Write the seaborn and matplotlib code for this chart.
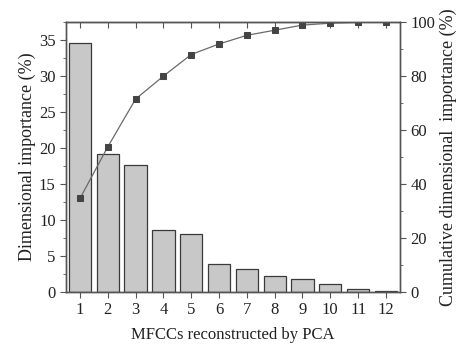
import matplotlib
matplotlib.use("Agg")
import matplotlib.pyplot as plt
import seaborn as sns
import numpy as np
from matplotlib.ticker import MultipleLocator

components = [1, 2, 3, 4, 5, 6, 7, 8, 9, 10, 11, 12]
importance = [34.6, 19.2, 17.7, 8.6, 8.0, 3.9, 3.2, 2.2, 1.76, 1.07, 0.42, 0.1]
cumulative = [34.7, 53.8, 71.5, 80.0, 88.0, 91.9, 95.1, 97.0, 98.9, 99.6, 99.9, 100.0]

sns.set_style("ticks")
plt.rcParams['font.family'] = ['Liberation Serif', 'DejaVu Serif']

fig = plt.figure(figsize=(4.59, 3.51), dpi=100)
ax = fig.add_axes([0.144, 0.168, 0.727, 0.769])

sns.barplot(x=components, y=importance, native_scale=True, ax=ax,
            color="#c8c8c8", edgecolor="#3a3a3a", linewidth=0.9, width=0.8,
            saturation=1)
ax.set_xlim(0.5, 12.5)
ax.set_ylim(0, 37.5)
ax.set_xticks(components)
ax.set_xticklabels([str(c) for c in components])
ax.yaxis.set_major_locator(MultipleLocator(5))
ax.yaxis.set_minor_locator(MultipleLocator(2.5))

ax2 = ax.twinx()
sns.lineplot(x=components, y=cumulative, ax=ax2, color="#6a6a6a", linewidth=0.9,
             marker="s", markersize=4.5, markerfacecolor="#444444",
             markeredgecolor="#444444")
ax2.set_ylim(0, 100)
ax2.yaxis.set_major_locator(MultipleLocator(20))
ax2.yaxis.set_minor_locator(MultipleLocator(10))

spine_col = "#555555"
for a in (ax, ax2):
    for s in a.spines.values():
        s.set_visible(True)
        s.set_color(spine_col)
        s.set_linewidth(1.0)

ax.tick_params(axis='both', which='major', labelsize=12, color=spine_col,
               length=4, direction='out', labelcolor="#222222")
ax.tick_params(axis='y', which='minor', length=2, color=spine_col, direction='out')
ax.tick_params(axis='x', top=False)

top = ax.secondary_xaxis('top')
top.set_xticks(components)
top.tick_params(axis='x', direction='in', length=4, color=spine_col, labeltop=False)
top.spines['top'].set_color(spine_col)

ax2.tick_params(axis='y', which='major', labelsize=12, color=spine_col,
                length=4, direction='out', labelcolor="#222222")
ax2.tick_params(axis='y', which='minor', length=2, color=spine_col, direction='out')

ax.set_xlabel("MFCCs reconstructed by PCA", fontsize=12, color="#222222", labelpad=6)
ax.set_ylabel("Dimensional importance (%)", fontsize=13, color="#222222", labelpad=2)
ax2.set_ylabel("Cumulative dimensional  importance (%)", fontsize=13, color="#222222",
               labelpad=3)

fig.savefig("out.png", dpi=100)
